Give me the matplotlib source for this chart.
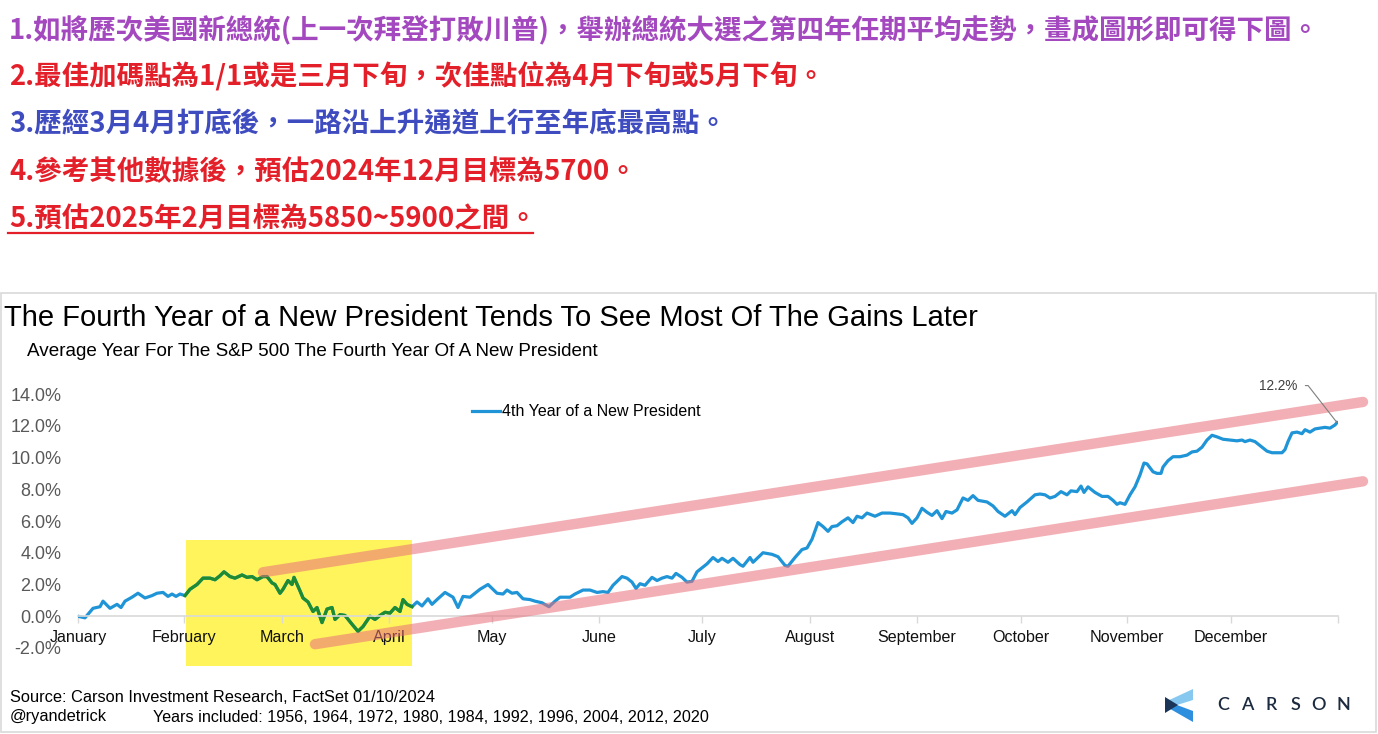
import matplotlib
matplotlib.use("Agg")
import matplotlib.pyplot as plt
from matplotlib.patches import Rectangle, Polygon
import numpy as np

# ---------------- data ----------------
trading_day = [
    0.0, 1.4, 3.0, 4.4, 5.0, 6.4, 7.8, 8.6, 9.4, 10.8, 12.0, 13.4, 14.8, 15.8, 17.0, 18.0, 18.8, 19.6, 20.4, 21.4,
    22.4, 23.8, 25.0, 26.4, 27.4, 28.4, 29.2, 30.4, 31.4, 32.8, 33.8, 34.8, 35.8, 37.0, 37.8, 38.8, 39.4,
    40.4, 41.0, 42.0, 42.8, 43.2, 44.4, 45.0, 46.0, 47.0, 47.8, 48.8, 49.8, 50.8, 51.4, 52.4, 53.4, 54.8,
    56.0, 57.0, 58.4, 59.4, 60.4, 61.4, 62.4, 63.4, 64.4, 65.0, 65.8, 66.8,
    67.8, 68.8, 70.0, 70.8, 71.8, 73.4, 75.0, 76.0, 77.0, 78.4, 80.4, 82.0, 83.8, 85.0, 85.8, 86.8, 87.8,
    89.0, 90.4, 91.4, 92.8, 94.2, 95.4, 96.4, 98.4, 99.4, 101.0, 102.4, 103.8, 105.0, 106.0, 107.0, 108.8,
    109.8, 110.8, 111.6, 112.4, 113.4, 114.8, 115.8, 116.8, 117.8, 118.8, 119.6, 120.8, 121.8, 122.8, 123.8,
    124.8, 125.8, 127.0, 128.0, 128.8, 130.0, 131.0, 132.4, 133.0, 134.4, 135.0, 137.0, 138.8, 140.0, 141.4,
    142.0, 143.4, 144.8, 145.8, 146.8, 148.0, 149.0, 150.0, 150.8, 151.8, 152.8, 154.0, 155.0, 155.8, 156.8,
    157.8, 159.4, 160.8, 162.4, 163.8, 165.0, 166.0, 166.8, 167.8, 168.8, 169.8, 170.8, 171.8, 172.8, 173.6,
    174.8, 175.8, 177.0, 178.0, 179.0, 180.0, 181.8, 183.0, 184.0, 185.4, 186.8, 187.4, 188.4, 189.8, 191.4,
    192.4, 193.4, 194.4, 195.4, 196.6, 197.8, 198.6, 199.8, 200.6, 201.2, 202.0, 203.4, 204.8, 206.0, 207.0,
    207.8, 208.4, 209.4, 210.4, 211.4, 212.4, 213.2, 213.8, 215.0, 215.8, 216.6, 217.0, 218.0, 219.0, 220.4,
    221.8, 222.8, 223.8, 224.8, 225.8, 226.8, 227.8, 229.0, 230.4, 231.8, 232.8, 233.4, 234.4, 235.4, 236.4,
    237.8, 238.8, 239.8, 240.8, 241.4, 242.0, 242.8, 243.8, 244.8, 245.4, 246.4, 247.4, 248.4, 249.4, 250.4,
    251.4, 251.8,
]
avg_return_pct = [
    0.0, -0.1, 0.5, 0.6, 0.95, 0.5, 0.75, 0.55, 0.95, 1.2, 1.45, 1.15, 1.3, 1.45, 1.5, 1.25, 1.4, 1.25, 1.4, 1.3,
    1.7, 2.0, 2.4, 2.4, 2.3, 2.55, 2.8, 2.5, 2.4, 2.6, 2.45, 2.5, 2.3, 2.5, 2.5, 2.1, 2.0,
    1.45, 1.7, 2.25, 2.0, 2.45, 1.6, 1.15, 0.9, 0.3, 0.55, -0.4, 0.45, 0.55, -0.2, 0.1, 0.05, -0.5,
    -0.95, -0.65, 0.0, -0.2, 0.05, 0.25, 0.2, 0.55, 0.3, 1.05, 0.75, 0.6,
    0.9, 0.65, 1.1, 0.75, 1.05, 1.5, 1.2, 0.55, 1.25, 1.2, 1.7, 2.0, 1.45, 1.4, 1.65, 1.45, 1.5,
    1.1, 1.05, 0.95, 0.85, 0.6, 0.95, 1.2, 1.2, 1.4, 1.65, 1.65, 1.5, 1.55, 1.5, 1.95, 2.5,
    2.4, 2.15, 1.75, 2.05, 1.95, 2.45, 2.25, 2.4, 2.5, 2.4, 2.7, 2.45, 2.15, 2.2, 2.8,
    3.05, 3.3, 3.7, 3.45, 3.65, 3.4, 3.65, 3.25, 3.15, 3.7, 3.4, 4.0, 3.9, 3.75, 3.2,
    3.15, 3.7, 4.2, 4.3, 4.85, 5.9, 5.65, 5.35, 5.65, 5.7, 5.95, 6.2, 5.9, 6.3, 6.2,
    6.5, 6.3, 6.5, 6.5, 6.45, 6.4, 6.2, 5.85, 6.2, 6.8, 6.55, 6.35, 6.65, 6.15, 6.6,
    6.5, 6.7, 7.45, 7.3, 7.6, 7.3, 7.2, 6.95, 6.6, 6.3, 6.65, 6.4, 6.85, 7.2, 7.65,
    7.7, 7.65, 7.45, 7.55, 7.85, 7.65, 7.9, 7.85, 8.2, 7.8, 8.15, 7.8, 7.55, 7.55, 7.3,
    7.05, 7.15, 7.05, 7.65, 8.15, 8.9, 9.65, 9.6, 9.1, 9.0, 9.0, 9.4, 9.8, 10.05, 10.05,
    10.15, 10.35, 10.4, 10.65, 11.1, 11.4, 11.3, 11.15, 11.1, 11.05, 11.1, 11.0, 11.1, 11.0, 10.75,
    10.4, 10.3, 10.3, 10.3, 10.5, 11.0, 11.55, 11.6, 11.5, 11.75, 11.6, 11.8, 11.85, 11.9, 11.85,
    12.05, 12.2,
]
months = ["January", "February", "March", "April", "May", "June", "July",
          "August", "September", "October", "November", "December"]
month_start_day = [0, 21.2, 40.8, 62.2, 82.8, 104.2, 124.8, 146.4, 167.8, 188.6, 209.8, 230.6]
year_end_day = 252
y_ticks = [-2, 0, 2, 4, 6, 8, 10, 12, 14]

# highlighted period (Feb - early April) and trend channel (hand-drawn annotations)
highlight_days = [21.6, 66.8]
highlight_range = [-3.14, 4.78]
channel_upper_x = [37.0, 257.0]
channel_upper_y = [2.77, 13.5]
channel_lower_x = [47.4, 257.0]
channel_lower_y = [-1.76, 8.5]

series_label = "4th Year of a New President"
title = "The Fourth Year of a New President Tends To See Most Of The Gains Later"
subtitle = "Average Year For The S&P 500 The Fourth Year Of A New President"
notes = [
    ("1.如將歷次美國新總統(上一次拜登打敗川普)，舉辦總統大選之第四年任期平均走勢，畫成圖形即可得下圖。", "#A348BF"),
    ("2.最佳加碼點為1/1或是三月下旬，次佳點位為4月下旬或5月下旬。", "#E3202A"),
    ("3.歷經3月4月打底後，一路沿上升通道上行至年底最高點。", "#3F4CC0"),
    ("4.參考其他數據後，預估2024年12月目標為5700。", "#E3202A"),
    ("5.預估2025年2月目標為5850~5900之間。", "#E3202A"),
]
source_text = "Source: Carson Investment Research, FactSet 01/10/2024"
handle_text = "@ryandetrick"
years_text = "Years included: 1956, 1964, 1972, 1980, 1984, 1992, 1996, 2004, 2012, 2020"

# ---------------- figure ----------------
W, H = 1378, 734
fig = plt.figure(figsize=(W / 100, H / 100), dpi=100)
fig.patch.set_facecolor("white")
ARIAL = ["Liberation Sans", "DejaVu Sans"]
CJK = ["Noto Sans CJK TC", "DejaVu Sans"]

def fx(px):
    return px / W

def fy(py):
    return 1 - py / H

# chart frame
fig.add_artist(Rectangle((fx(1), fy(732)), fx(1375), (732 - 293) / H, transform=fig.transFigure,
                         fill=False, edgecolor="#D9D9D9", lw=1.2))

# notes on top
note_y = [31, 76, 125, 172, 219]
for (txt, col), py in zip(notes, note_y):
    fig.text(fx(9), fy(py), txt, color=col, fontsize=19.8, fontweight="bold",
             family=CJK, ha="left", va="center")
fig.add_artist(plt.Line2D([fx(8), fx(533)], [fy(233), fy(233)], transform=fig.transFigure,
                          color="#E3202A", lw=1.6))

# titles
fig.text(fx(4), fy(318), title, fontsize=21, family=ARIAL, color="black", ha="left", va="center")
fig.text(fx(27), fy(351), subtitle, fontsize=13.6, family=ARIAL, color="black", ha="left", va="center")

# axes
ax = fig.add_axes([fx(78), fy(648), (1338 - 78) / W, (648 - 394) / H])
ax.set_xlim(0, year_end_day)
ax.set_ylim(y_ticks[0], y_ticks[-1])
ax.patch.set_alpha(0)

x = np.array(trading_day)
y = np.array(avg_return_pct)

ax.add_patch(Rectangle((highlight_days[0], highlight_range[0]),
                       highlight_days[1] - highlight_days[0], highlight_range[1] - highlight_range[0],
                       facecolor="#FFF45C", edgecolor="none", zorder=1, clip_on=False))

ax.plot(x, y, color="#1F94D6", lw=2.3, zorder=2, label=series_label, solid_joinstyle="round")
mask = (x >= 21.4) & (x <= highlight_days[1])
ax.plot(x[mask], y[mask], color="#1E8B30", lw=2.3, zorder=2.1, solid_joinstyle="round")

for cx, cy in ((channel_upper_x, channel_upper_y), (channel_lower_x, channel_lower_y)):
    ax.plot(cx, cy, color="#E8707A", alpha=0.55, lw=7.5, solid_capstyle="round",
            zorder=3, clip_on=False)

# end annotation
end_x, end_y = trading_day[-1], avg_return_pct[-1]
ax.annotate(f"{end_y:.1f}%", xy=(end_x, end_y), xytext=(-40, 37), textcoords="offset pixels",
            fontsize=9.8, family=ARIAL, color="#404040", ha="right", va="center",
            arrowprops=dict(arrowstyle="-", color="#7F7F7F", lw=0.8,
                            connectionstyle="angle,angleA=0,angleB=128,rad=0",
                            shrinkA=4, shrinkB=0), zorder=5)

# axis styling
for s in ("top", "right", "left"):
    ax.spines[s].set_visible(False)
ax.spines["bottom"].set_position(("data", 0))
ax.spines["bottom"].set_color("#D9D9D9")
ax.spines["bottom"].set_linewidth(1.2)
ax.set_xticks(month_start_day + [year_end_day])
ax.set_xticklabels(months + [""])
ax.tick_params(axis="x", length=5, color="#D9D9D9", width=1, pad=5, labelsize=11.6, labelcolor="#111111")
for lbl in ax.get_xticklabels():
    lbl.set_family(ARIAL)
ax.set_yticks(y_ticks)
ax.set_yticklabels([f"{v:.1f}%" for v in y_ticks])
ax.tick_params(axis="y", length=0, pad=12, labelsize=13, labelcolor="#595959")
for lbl in ax.get_yticklabels():
    lbl.set_family(ARIAL)

leg = ax.legend(loc="center left", bbox_to_anchor=(fx(472), fy(412)), bbox_transform=fig.transFigure,
                frameon=False, borderpad=0, borderaxespad=0, handlelength=1.75, handletextpad=0.15,
                prop={"family": ARIAL, "size": 11.5})

# footer
fig.text(fx(10), fy(697), source_text, fontsize=11.8, family=ARIAL, color="black", ha="left", va="center")
fig.text(fx(10), fy(717), handle_text, fontsize=11.8, family=ARIAL, color="black", ha="left", va="center")
fig.text(fx(153), fy(717), years_text, fontsize=11.6, family=ARIAL, color="black", ha="left", va="center")

# Carson logo
logo_parts = [
    ([(1165, 702), (1193, 689), (1193, 700), (1177, 705)], "#86C8EF"),
    ([(1165, 706), (1177, 705), (1193, 711), (1193, 722)], "#2F8FDF"),
    ([(1165, 697), (1178, 705), (1165, 713)], "#1B3557"),
]
for pts, col in logo_parts:
    fig.add_artist(Polygon([(fx(a), fy(b)) for a, b in pts], closed=True, transform=fig.transFigure,
                           facecolor=col, edgecolor="none"))
for i, ch in enumerate("CARSON"):
    fig.text(fx(1223 + i * 24.0), fy(705), ch, fontsize=13, family=["Lato", "DejaVu Sans"],
             fontweight="semibold", color="#1C2B3F", ha="center", va="center")

fig.savefig("out.png", dpi=100, facecolor="white")
